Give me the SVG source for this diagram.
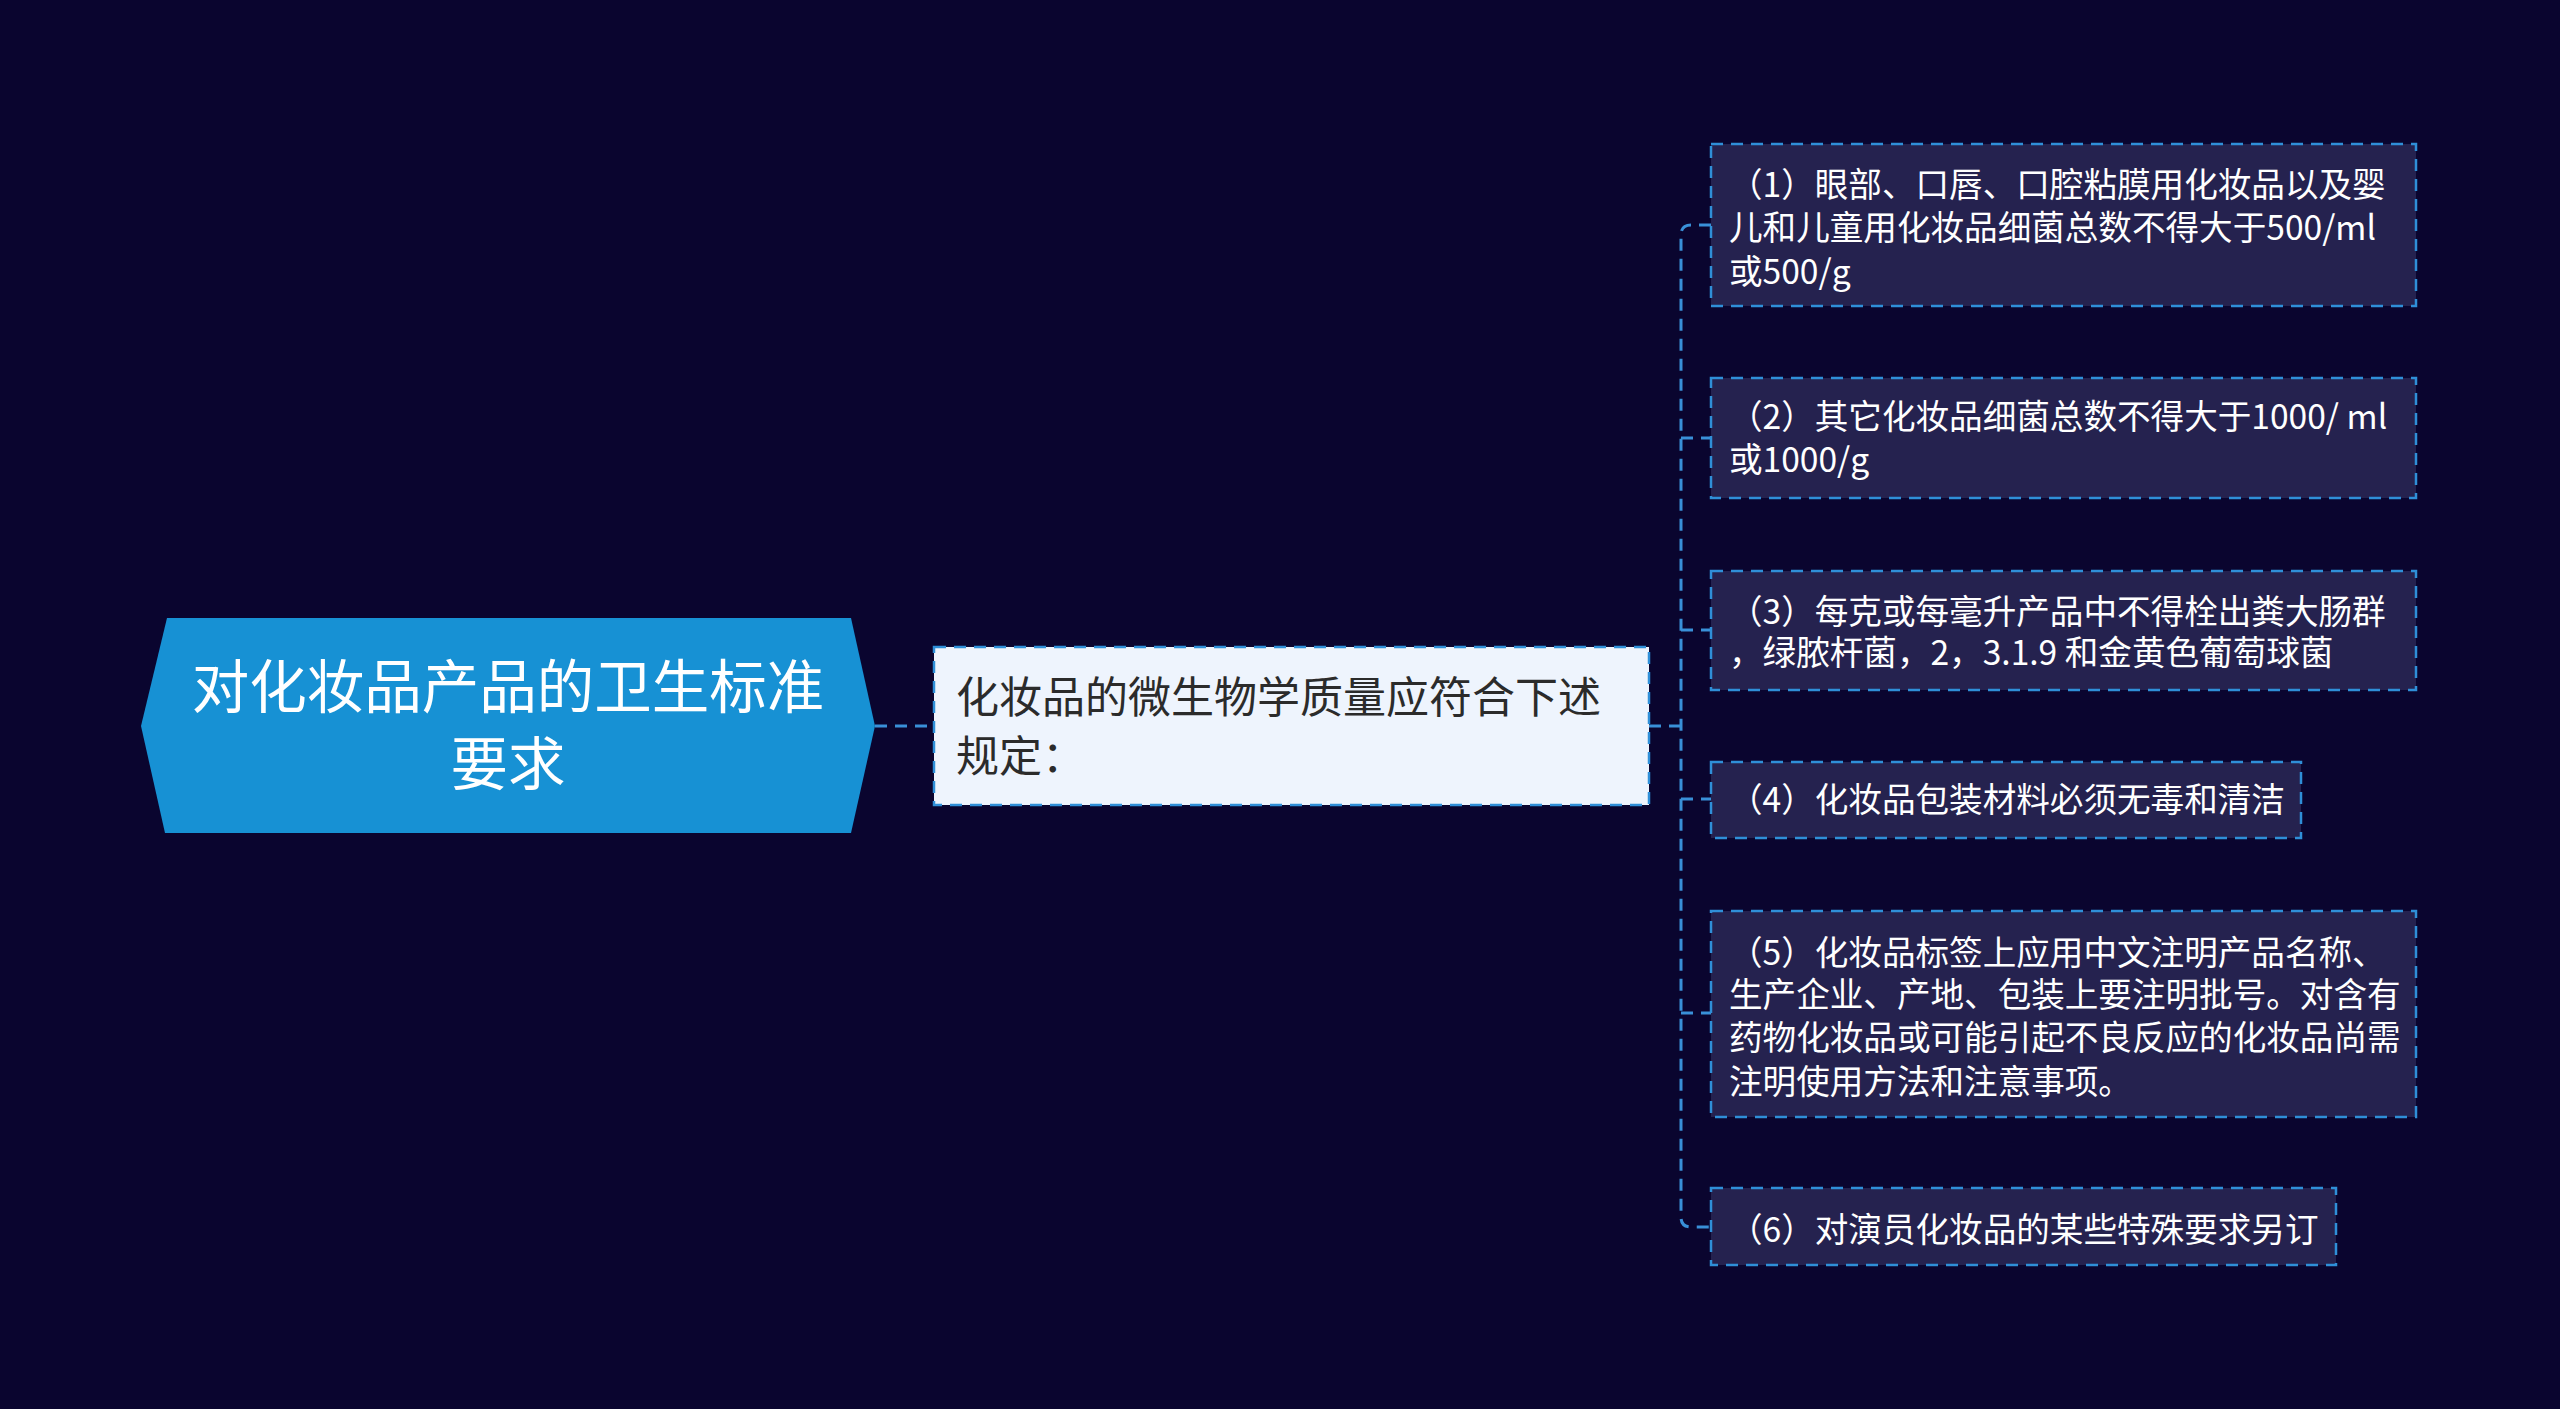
<svg xmlns="http://www.w3.org/2000/svg" width="2560" height="1409" viewBox="0 0 2560 1409">
<defs>
<style>
.bg{fill:#0a052f}
.root{fill:#1791d4}
.rootText{fill:#ffffff;font-family:"Noto Sans CJK SC","Noto Sans",sans-serif;font-size:57.5px;text-anchor:middle}
.mid{fill:#eef4fd;stroke:#2f8fd8;stroke-width:2.5;stroke-dasharray:12 8}
.midText{fill:#2b2b2b;font-family:"Noto Sans CJK SC","Noto Sans",sans-serif;font-size:43px}
.leaf{fill:#25224f;stroke:#2f8fd8;stroke-width:2.5;stroke-dasharray:12 8}
.leafText{fill:#ffffff;font-family:"Noto Sans CJK SC","Noto Sans",sans-serif;font-size:33.6px}
.conn{fill:none;stroke:#3990d8;stroke-width:3;stroke-dasharray:12 8}
</style>
</defs>
<rect class="bg" x="0" y="0" width="2560" height="1409"/>
<g id="connectors">
<path class="conn" d="M875 726 H934" stroke-dasharray="40 10 12 8" stroke-width="4"/>
<path class="conn" d="M1649 726 H1681"/>
<path class="conn" d="M1711 225 H1691 Q1681 225 1681 235 V1217 Q1681 1227 1691 1227 H1711"/>
<path class="conn" d="M1681 438 H1711"/>
<path class="conn" d="M1681 630 H1711"/>
<path class="conn" d="M1681 799 H1711"/>
<path class="conn" d="M1681 1013 H1711"/>
</g>
<g id="node-root">
<polygon class="root" points="167,618 851,618 875,726 851,833 165,833 141,726"/>
<text class="rootText"><tspan x="508" y="708">对化妆品产品的卫生标准</tspan><tspan x="508" y="785">要求</tspan></text>
</g>
<g id="node-mid">
<rect class="mid" x="934" y="647" width="715" height="158"/>
<text class="midText"><tspan x="956" y="713">化妆品的微生物学质量应符合下述</tspan><tspan x="956" y="772">规定：</tspan></text>
</g>
<g id="node-1">
<rect class="leaf" x="1711" y="144" width="705" height="162"/>
<text class="leafText"><tspan x="1729" y="197">（1）眼部、口唇、口腔粘膜用化妆品以及婴</tspan><tspan x="1729" y="240">儿和儿童用化妆品细菌总数不得大于500/ml</tspan><tspan x="1729" y="284">或500/g</tspan></text>
</g>
<g id="node-2">
<rect class="leaf" x="1711" y="378" width="705" height="120"/>
<text class="leafText"><tspan x="1729" y="429">（2）其它化妆品细菌总数不得大于1000/ ml</tspan><tspan x="1729" y="472">或1000/g</tspan></text>
</g>
<g id="node-3">
<rect class="leaf" x="1711" y="571" width="705" height="119"/>
<text class="leafText"><tspan x="1729" y="624">（3）每克或每毫升产品中不得栓出粪大肠群</tspan><tspan x="1729" y="665">，绿脓杆菌，2，3.1.9 和金黄色葡萄球菌</tspan></text>
</g>
<g id="node-4">
<rect class="leaf" x="1711" y="762" width="590" height="76"/>
<text class="leafText" x="1729" y="812">（4）化妆品包装材料必须无毒和清洁</text>
</g>
<g id="node-5">
<rect class="leaf" x="1711" y="911" width="705" height="206"/>
<text class="leafText"><tspan x="1729" y="965">（5）化妆品标签上应用中文注明产品名称、</tspan><tspan x="1729" y="1007">生产企业、产地、包装上要注明批号。对含有</tspan><tspan x="1729" y="1050">药物化妆品或可能引起不良反应的化妆品尚需</tspan><tspan x="1729" y="1094">注明使用方法和注意事项。</tspan></text>
</g>
<g id="node-6">
<rect class="leaf" x="1711" y="1188" width="625" height="77"/>
<text class="leafText" x="1729" y="1242">（6）对演员化妆品的某些特殊要求另订</text>
</g>
</svg>
